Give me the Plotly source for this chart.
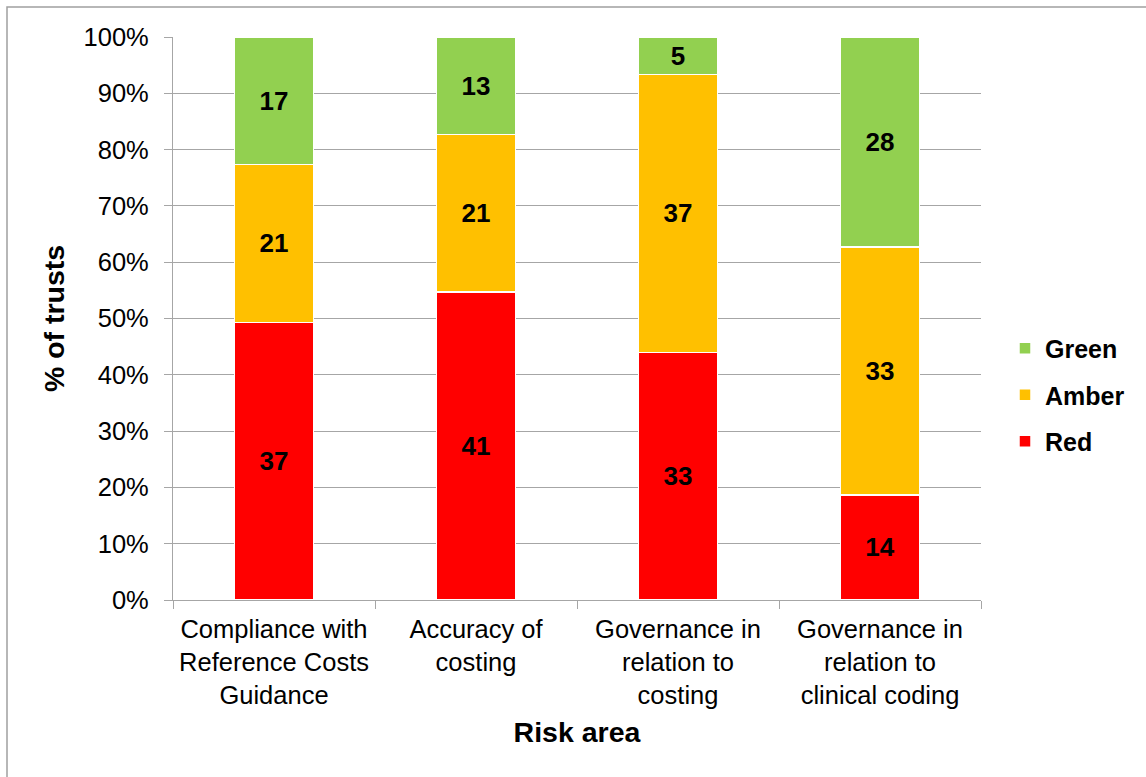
import plotly.graph_objects as go

# Trust counts per risk area, by RAG rating
categories = [
    "Compliance with<br>Reference Costs<br>Guidance",
    "Accuracy of<br>costing",
    "Governance in<br>relation to<br>costing",
    "Governance in<br>relation to<br>clinical coding",
]
red = [37, 41, 33, 14]
amber = [21, 21, 37, 33]
green = [17, 13, 5, 28]

y_ticks = list(range(0, 101, 10))
y_tick_text = [f"{v}%" for v in y_ticks]

series = [
    ("Red", red, "#ff0000", 3),
    ("Amber", amber, "#ffc000", 2),
    ("Green", green, "#92d050", 1),
]

W, H = 1146, 777
L, R, T, B = 173, 165, 37, 177
pw, ph = W - L - R, H - T - B

FONT = "Liberation Sans, Arial, sans-serif"
GRID = "#a6a6a6"

fig = go.Figure()
for name, vals, col, rank in series:
    fig.add_trace(go.Bar(
        x=categories,
        y=vals,
        name=name,
        legendgroup=name,
        legendrank=rank,
        text=[str(v) for v in vals],
        textposition="inside",
        insidetextanchor="middle",
        textangle=0,
        textfont=dict(family=FONT, size=26, color="black", weight="bold"),
        marker=dict(color=col, line=dict(color="white", width=1.5)),
        hoverinfo="skip",
    ))

fig.update_layout(
    width=W,
    height=H,
    margin=dict(l=L, r=R, t=T, b=B, autoexpand=False),
    barmode="stack",
    barnorm="percent",
    bargap=0.61,
    paper_bgcolor="white",
    plot_bgcolor="white",
    font=dict(family=FONT, size=25.5, color="black"),
    legend=dict(
        x=(1005 - L) / pw,
        xanchor="left",
        y=(600 - 395) / ph,
        yanchor="middle",
        traceorder="grouped",
        tracegroupgap=11,
        font=dict(family=FONT, size=25, color="black", weight="bold"),
        bgcolor="rgba(0,0,0,0)",
        itemwidth=30,
    ),
    showlegend=True,
)

fig.update_yaxes(
    range=[0, 100],
    tickmode="array",
    tickvals=y_ticks,
    ticktext=y_tick_text,
    showgrid=True,
    gridcolor=GRID,
    gridwidth=1.3,
    zeroline=False,
    showline=True,
    linecolor=GRID,
    linewidth=1.3,
    ticks="outside",
    ticklen=8,
    tickcolor=GRID,
    tickwidth=1.3,
    ticklabelstandoff=10,
    tickfont=dict(family=FONT, size=25.5, color="black"),
    title=dict(
        text="% of trusts",
        font=dict(family=FONT, size=28.5, color="black", weight="bold"),
        standoff=10,
    ),
)

fig.update_xaxes(
    type="category",
    tickson="boundaries",
    showgrid=False,
    showline=True,
    linecolor=GRID,
    linewidth=1.3,
    ticks="outside",
    ticklen=8,
    tickcolor=GRID,
    tickwidth=1.3,
    ticklabelstandoff=6,
    tickfont=dict(family=FONT, size=25.5, color="black"),
    title=dict(
        text="Risk area",
        font=dict(family=FONT, size=28.5, color="black", weight="bold"),
        standoff=14,
    ),
)

# Chart-area frame
fig.add_shape(
    type="rect",
    xref="paper", yref="paper",
    x0=(7 - L) / pw, x1=(W + 20 - L) / pw,
    y0=-(H + 20 - (T + ph)) / ph, y1=1 + (T - 7) / ph,
    line=dict(color="#a0a0a0", width=1.5),
    fillcolor="rgba(0,0,0,0)",
    layer="below",
)

fig.write_html("out.html")
